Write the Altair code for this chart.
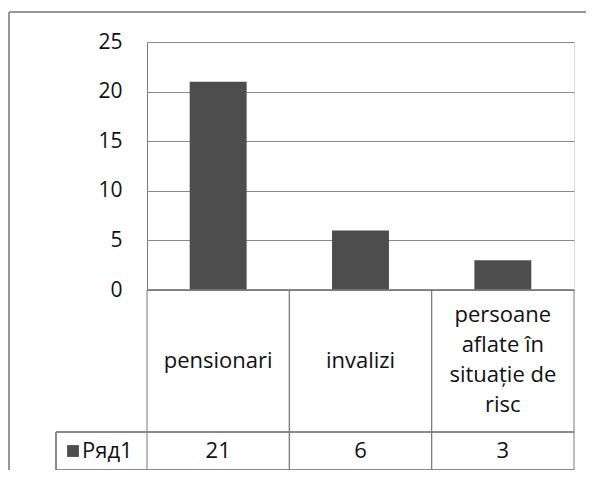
import altair as alt
import pandas as pd

categories = ["pensionari", "invalizi", "persoane aflate în situație de risc"]
label_lines = ["pensionari", "invalizi", "persoane\naflate în\nsituație de\nrisc"]
values = [21, 6, 3]
series_name = "Ряд1"
y_ticks = [0, 5, 10, 15, 20, 25]

df = pd.DataFrame({"cat": categories, "label": label_lines, "value": values})

FONT = "Open Sans"
BAR = "#4d4d4d"
LINE = "#7a7a7a"
TXT = "#111111"
W, H = 427, 248

xscale = alt.Scale(paddingInner=0, paddingOuter=0)
X = alt.X("cat:N", sort=categories, scale=xscale, axis=None)

base = alt.Chart(df)

bars = base.mark_bar(color=BAR, width={"band": 0.4}).encode(
    x=X,
    y=alt.Y("value:Q", scale=alt.Scale(domain=[0, 25]),
            axis=alt.Axis(values=y_ticks, title=None, tickSize=0, labelPadding=25,
                          labelFontSize=21, labelFont=FONT, labelColor=TXT,
                          domainColor=LINE, gridColor="#8a8a8a", gridWidth=1.2)),
)

# table vertical lines at category band edges
vleft = base.mark_rule(color=LINE, strokeWidth=1).encode(
    x=alt.X("cat:N", sort=categories, scale=xscale, bandPosition=0, axis=None),
    y=alt.value(H), y2=alt.value(428))
vright = base.mark_rule(color=LINE, strokeWidth=1).encode(
    x=alt.X("cat:N", sort=categories, scale=xscale, bandPosition=1, axis=None),
    y=alt.value(H), y2=alt.value(428))
baseline = base.mark_rule(color=LINE, strokeWidth=1.2).encode(
    x=alt.value(0), x2=alt.value(W), y=alt.value(H))

h1 = base.mark_rule(color=LINE).encode(x=alt.value(-91), x2=alt.value(W), y=alt.value(390))
h2 = base.mark_rule(color=LINE).encode(x=alt.value(-91), x2=alt.value(W), y=alt.value(428))
v0 = base.mark_rule(color=LINE).encode(x=alt.value(-91), y=alt.value(390), y2=alt.value(428))

# outer frame
top_frame = base.mark_rule(color="#888888").encode(x=alt.value(-138), x2=alt.value(W + 12), y=alt.value(-30))
left_frame = base.mark_rule(color="#888888").encode(x=alt.value(-138), y=alt.value(-30), y2=alt.value(W + 50))

single = base.transform_filter("indexof(datum.label, '\\n') < 0").mark_text(
    font=FONT, fontSize=22, color=TXT, baseline="middle").encode(
    x=X, y=alt.value(319), text="label:N")
multi = base.transform_filter("indexof(datum.label, '\\n') >= 0").mark_text(
    font=FONT, fontSize=22, color=TXT, lineBreak="\n", lineHeight=30,
    baseline="middle").encode(
    x=X, y=alt.value(273), text="label:N")

val_labels = base.mark_text(font=FONT, fontSize=22, color=TXT, baseline="middle").encode(
    x=X, y=alt.value(409), text="value:Q")

legend_df = pd.DataFrame({"name": [series_name]})
leg_sq = alt.Chart(legend_df).mark_square(color=BAR, size=140, opacity=1).encode(
    x=alt.value(-74), y=alt.value(409))
leg_txt = alt.Chart(legend_df).mark_text(font=FONT, fontSize=22, color=TXT,
                                         align="left", baseline="middle").encode(
    x=alt.value(-65), y=alt.value(409), text="name:N")

chart = alt.layer(bars, baseline, vleft, vright, h1, h2, v0, top_frame, left_frame,
                  single, multi, val_labels, leg_sq, leg_txt).properties(
    width=W, height=H,
    autosize=alt.AutoSizeParams(type="none"),
    padding={"left": 139, "top": 34, "right": 12, "bottom": 180},
).configure_view(stroke=None).configure(background="white")

chart.save("out.html", embed_options={"renderer": "svg", "actions": False})
